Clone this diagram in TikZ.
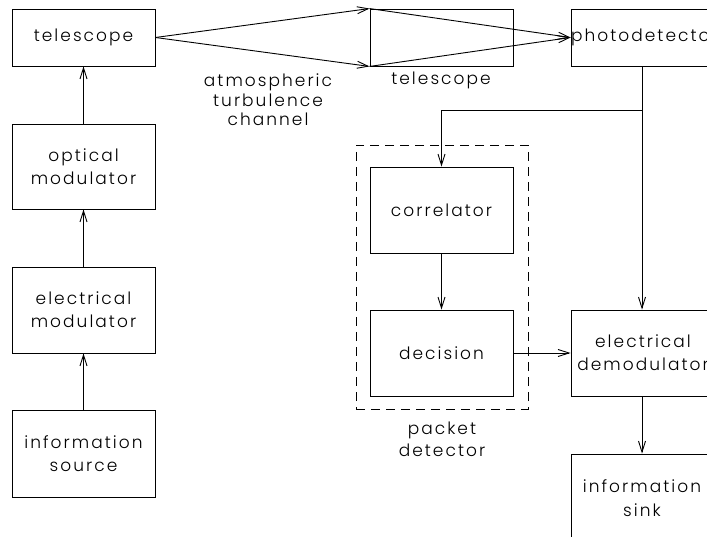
\documentclass[tikz,border=0pt]{standalone}
\usepackage{fontspec}
\setmainfont{Poppins}[UprightFont=* Light, LetterSpace=12]
\usetikzlibrary{arrows.meta}
\begin{document}
\begin{tikzpicture}[x=1pt,y=-1pt,
  blk/.style={draw, line width=0.9pt, minimum width=143pt, align=center, inner sep=0pt, font=\fontsize{17}{23}\selectfont},
  lbl/.style={align=center, font=\fontsize{17}{19.5}\selectfont},
  arr/.style={line width=0.9pt, -{Straight Barb[length=11pt,width=7pt,line width=0.9pt]}},
  ln/.style={line width=0.9pt}]
\useasboundingbox (0,0) rectangle (707,537);
\clip (0,0) rectangle (707,537);
\node[blk, minimum height=57pt] (tel1) at (83.5,37.5) {telescope};
\node[blk, minimum height=85pt] (opt) at (83.5,166.5) {optical\\modulator};
\node[blk, minimum height=86pt] (elm) at (83.5,310) {electrical\\modulator};
\node[blk, minimum height=87pt] (src) at (83.5,453.5) {information\\source};
\node[blk, minimum height=57pt] (tel2) at (441.5,37.5) {};
\node[blk, minimum height=57pt, minimum width=144pt, text width=144pt] (pd) at (643,37.5) {photodetector};
\node[blk, minimum height=86pt] (cor) at (441.5,210) {correlator};
\node[blk, minimum height=86pt] (dec) at (441.5,353) {decision};
\node[blk, minimum height=86pt, minimum width=144pt, text width=144pt] (dem) at (643,353) {electrical\\demodulator};
\node[blk, minimum height=106pt, minimum width=144pt] (snk) at (643,507) {};
\node[blk, draw=none, minimum width=0pt, font=\fontsize{17}{24}\selectfont] (snktxt) at (642,498) {information\\sink};
\node[draw, dash pattern=on 9pt off 6pt, line width=0.9pt, minimum width=172pt, minimum height=264pt, inner sep=0pt] (pkt) at (442,277) {};
\node[lbl] (chan) at (268,100) {atmospheric\\turbulence\\channel};
\node[lbl] (tel2lbl) at (441,80) {telescope};
\node[lbl, font=\fontsize{17}{22}\selectfont] (pktlbl) at (442,439) {packet\\detector};
% optical path
\draw[arr] (tel1.east) -- (tel2.north west);
\draw[arr] (tel1.east) -- (tel2.south west);
\draw[arr] (tel2.north west) -- (pd.west);
\draw[arr] (tel2.south west) -- (pd.west);
% left chain
\draw[arr] (src) -- (elm);
\draw[arr] (elm) -- (opt);
\draw[arr] (opt) -- (tel1);
% right side
\coordinate (br) at (642,110);
\draw[arr] (pd.south -| br) -- (dem.north -| br);
\draw[arr] (br) -| (cor.north);
\draw[arr] (cor) -- (dec);
\draw[arr] (dec) -- (dem);
\draw[arr] (dem.south -| br) -- (snk.north -| br);
\end{tikzpicture}
\end{document}
